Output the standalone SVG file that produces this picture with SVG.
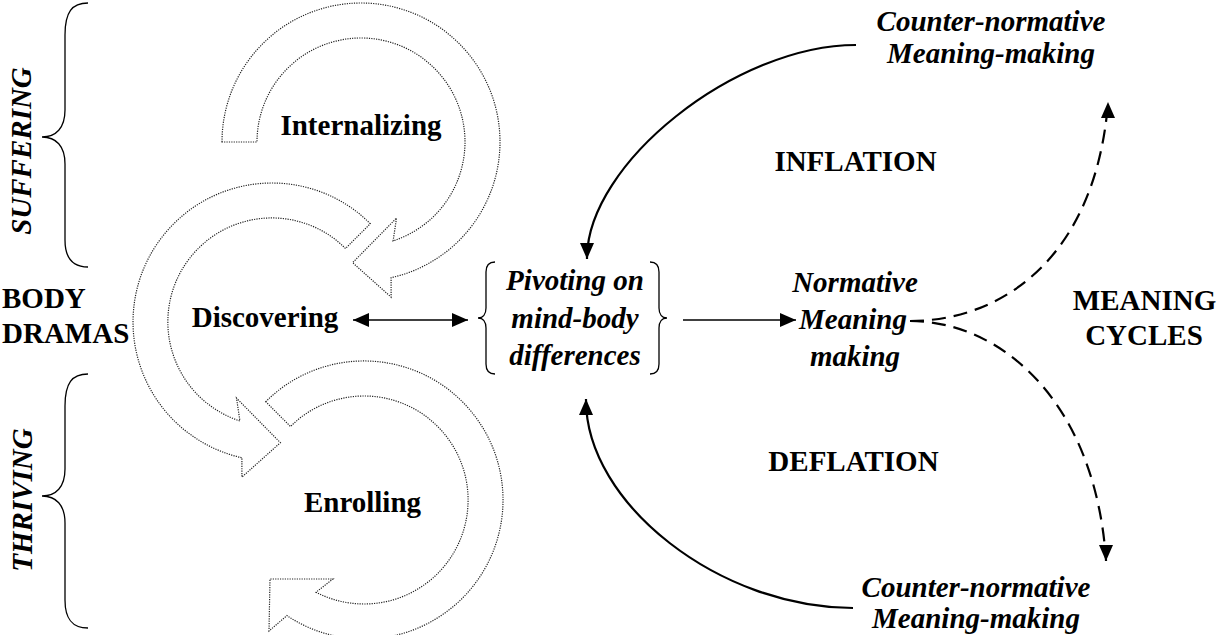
<svg xmlns="http://www.w3.org/2000/svg" width="1219" height="635" viewBox="0 0 1219 635">
<defs>
<style>
.t{font-family:"Liberation Serif","Times New Roman",serif;font-size:29px;font-weight:bold;fill:#000}
.i{font-style:italic}
.m{text-anchor:middle}
.ring{fill:#fff;stroke:#222;stroke-width:1.2;stroke-dasharray:1.2 1.2}
.br{fill:none;stroke:#000;stroke-width:1.3}
.c{fill:none;stroke:#000}
.solid{stroke-width:2.2}
.thin{stroke-width:1.5}
.dash{stroke-width:2.2;stroke-dasharray:14 8}
</style>
<marker id="ah" markerUnits="userSpaceOnUse" markerWidth="17" markerHeight="14" refX="16" refY="7" orient="auto"><path d="M0,0 L16,7 L0,14 z" fill="#000"/></marker>
<marker id="ahs" markerUnits="userSpaceOnUse" markerWidth="17" markerHeight="14" refX="16" refY="7" orient="auto-start-reverse"><path d="M0,0 L16,7 L0,14 z" fill="#000"/></marker>
</defs>
<rect width="1219" height="635" fill="#fff"/>

<g id="ring-internalizing">
<path class="ring" d="M222,142 A139,139 0 1 1 391.1,277.7 L391.1,297.1 L352.6,262.7 L396.5,218.1 L393.1,240.9 A104,104 0 1 0 257,142 Z"/>
<text class="t m" x="361" y="135">Internalizing</text>
</g>
<g id="ring-discovering">
<path class="ring" d="M370.3,223.7 A139,139 0 1 0 241.9,457.7 L241.9,477.1 L280.4,442.7 L236.5,398.1 L239.9,420.9 A104,104 0 1 1 345.5,248.5 Z"/>
<text class="t m" x="265" y="327">Discovering</text>
</g>
<g id="ring-enrolling">
<path class="ring" d="M265.7,401.7 A139,139 0 1 1 286.9,615.6 L269,631 L270,579 L333,579 L316,592.2 A104,104 0 1 0 290.5,426.5 Z"/>
<text class="t m" x="362.5" y="512">Enrolling</text>
</g>

<g id="suffering">
<path class="br" d="M88,3 C72,3 65,12 65,35 L65,110 C65,128 56,137 42,137 C56,137 65,146 65,164 L65,240 C65,258 72,267 88,267"/>
<text class="t i m" transform="translate(31,151) rotate(-90)">SUFFERING</text>
</g>
<g id="thriving">
<path class="br" d="M88,374 C72,374 65,383 65,406 L65,469 C65,487 56,496 42,496 C56,496 65,505 65,523 L65,600 C65,619 72,628 88,628"/>
<text class="t i m" transform="translate(32,500) rotate(-90)">THRIVING</text>
</g>
<g id="body-dramas">
<text class="t" x="2" y="308">BODY</text>
<text class="t" x="2" y="343">DRAMAS</text>
</g>

<g id="pivoting">
<path class="br" d="M495,262 C489,262 486,265 486,272 L486,308 C486,314 483,318 478,318 C483,318 486,322 486,328 L486,364 C486,371 489,374 495,374"/>
<path class="br" d="M650,262 C656,262 659,265 659,272 L659,308 C659,314 662,318 667,318 C662,318 659,322 659,328 L659,364 C659,371 656,374 650,374"/>
<text class="t i m" x="575" y="290">Pivoting on</text>
<text class="t i m" x="575" y="327.5">mind-body</text>
<text class="t i m" x="575" y="365">differences</text>
</g>

<g id="normative">
<text class="t i m" x="855" y="292">Normative</text>
<text class="t i m" x="853" y="329">Meaning</text>
<text class="t i m" x="855" y="366">making</text>
</g>

<g id="counter-top">
<text class="t i m" x="991" y="31">Counter-normative</text>
<text class="t i m" x="991" y="62.5">Meaning-making</text>
</g>
<g id="counter-bottom">
<text class="t i m" x="976" y="597">Counter-normative</text>
<text class="t i m" x="976" y="628">Meaning-making</text>
</g>

<g id="labels">
<text class="t m" x="855.5" y="171">INFLATION</text>
<text class="t m" x="853.5" y="471">DEFLATION</text>
<text class="t m" x="1144.5" y="310">MEANING</text>
<text class="t m" x="1144" y="345">CYCLES</text>
</g>

<g id="connectors">
<path class="c thin" d="M353,320 L468,320" marker-start="url(#ahs)" marker-end="url(#ahs)"/>
<path class="c thin" d="M683,320 L796,320" marker-end="url(#ah)"/>
<path class="c solid" d="M856,45 C735,45 587,164 587,258 L587,259" marker-end="url(#ah)"/>
<path class="c solid" d="M853,608 C720,608 586,504 586,400 L586,399" marker-end="url(#ah)"/>
<path class="c dash" d="M910,321 C1000,321 1095,260 1108,103 L1108,102" marker-end="url(#ah)"/>
<path class="c dash" d="M910,321 C1000,321 1095,400 1106,560 L1106,561" marker-end="url(#ah)"/>
</g>
</svg>
